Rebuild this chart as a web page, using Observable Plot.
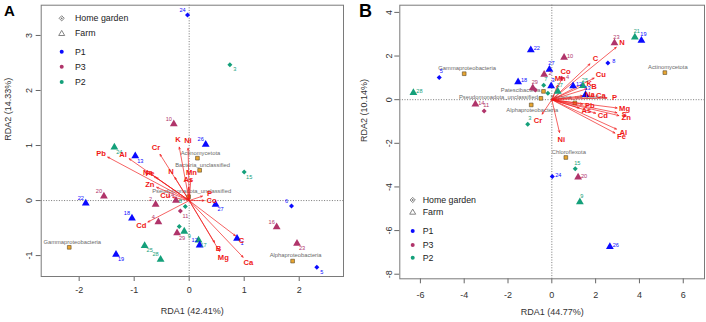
<!DOCTYPE html>
<html><head><meta charset="utf-8">
<script src="https://cdn.jsdelivr.net/npm/d3@7"></script>
<script src="https://cdn.jsdelivr.net/npm/@observablehq/plot@0.6"></script>
<style>
body{margin:0;background:#fff;font-family:"Liberation Sans",Arial,sans-serif;}
#wrap{position:relative;width:706px;height:322px;overflow:hidden;background:#fff;}
.panel{position:absolute;top:0;height:322px;}
.letter{position:absolute;font-weight:bold;color:#000;font-family:"Liberation Sans",Arial,sans-serif;line-height:1;}
.leg{position:absolute;left:0;top:0;pointer-events:none;}
</style></head><body>
<div id="wrap">
  <div class="panel" id="pA" style="left:0;width:350px"></div>
  <div class="panel" id="pB" style="left:350px;width:356px"></div>
  <div class="letter" style="left:4px;top:3px;font-size:15px">A</div>
  <div class="letter" style="left:359px;top:2px;font-size:18px">B</div>
</div>
<script>
// ---------- shared ----------
const groups = ["P1", "P3", "P2"];
const groupColors = ["#0a0aff", "#b0346a", "#14a07a"];
const sites = ["Home garden", "Farm"];

// ---------- Panel A ----------
const titleXA = "RDA1 (42.41%)";
const titleYA = "RDA2 (14.33%)";
const ticksXA = [-2, -1, 0, 1, 2];
const ticksYA = [-1, 0, 1, 2, 3];
const sampleIdA = ["24","3","10","26","24","13","15","20","22","2","14","8","11","27","6","18","4","","29","9","16","1","17","12","23","25","28","19","5"];
const sampleGroupA = ["P1","P2","P3","P1","P2","P1","P2","P3","P1","P3","P3","P2","P3","P1","P1","P1","P3","P2","P3","P2","P3","P1","P2","P1","P3","P2","P2","P1","P1"];
const sampleSiteA = ["Home garden","Home garden","Farm","Farm","Farm","Farm","Home garden","Farm","Farm","Farm","Farm","Home garden","Home garden","Farm","Home garden","Farm","Farm","Home garden","Farm","Farm","Farm","Farm","Farm","Farm","Farm","Farm","Farm","Farm","Home garden"];
const sampleXA = [-0.03,0.74,-0.28,0.30,-1.36,-0.98,1.00,-1.55,-1.88,-0.61,-0.24,-0.07,-0.16,0.48,1.86,-1.04,-0.56,-0.18,-0.22,-0.09,1.59,0.87,0.17,0.19,1.96,-0.81,-0.52,-1.33,2.32];
const sampleYA = [3.37,2.47,1.39,1.02,0.97,0.81,0.52,0.08,-0.05,-0.07,0.00,-0.11,-0.19,-0.07,-0.10,-0.32,-0.39,-0.47,-0.59,-0.56,-0.48,-0.69,-0.72,-0.81,-0.78,-0.82,-1.07,-0.98,-1.21];
// label side: "ul" = above-left, "br" = below-right
const sampleSideA = ["ul","br","ul","ul","br","br","br","ul","ul","ul","ul","ul","br","br","ul","ul","ul","br","br","br","ul","br","br","ul","br","br","ul","br","br"];
const speciesA = ["Actinomycetota","Bacteria_unclassified","Pseudomonadota_unclassified","Gammaproteobacteria","Alphaproteobacteria"];
const speciesXA = [0.15,0.19,-0.01,-2.18,1.88];
const speciesYA = [0.77,0.55,0.07,-0.85,-1.10];
const speciesSideA = ["above","above","above","above","above"];
const envA = ["Pb","Al","Cr","K","Ni","N","Na","Fe","Zn","Cu","Mn","As","P","Co","C","B","Mg","Ca","Cd"];
const envXA = [-1.48,-1.09,-0.53,-0.18,-0.02,-0.26,-0.64,-0.60,-0.59,-0.30,0.03,-0.01,0.24,0.27,0.84,0.46,0.55,0.98,-0.75];
const envYA = [0.79,0.76,0.84,0.97,0.95,0.42,0.44,0.42,0.24,0.06,0.38,0.24,0.08,0.00,-0.64,-0.76,-0.92,-1.03,-0.39];

// ---------- Panel B ----------
const titleXB = "RDA1 (44.77%)";
const titleYB = "RDA2 (10.14%)";
const ticksXB = [-6, -4, -2, 0, 2, 4, 6];
const ticksYB = [-8, -6, -4, -2, 0, 2, 4];
const sampleIdB = ["5","28","14","11","22","10","27","2","18","29","","7","3","","17","4","12","25","13","8","23","21","19","3","15","24","20","9","26"];
const sampleGroupB = ["P1","P2","P3","P3","P1","P3","P1","P3","P1","P3","P3","P2","P1","P2","P2","P3","P1","P2","P1","P1","P3","P2","P1","P2","P2","P1","P3","P2","P1"];
const sampleSiteB = ["Home garden","Farm","Farm","Home garden","Farm","Farm","Farm","Farm","Farm","Farm","Home garden","Home garden","Farm","Home garden","Farm","Home garden","Farm","Farm","Farm","Home garden","Farm","Farm","Farm","Home garden","Home garden","Home garden","Farm","Farm","Farm"];
const sampleXB = [-5.14,-6.32,-3.49,-3.09,-0.96,0.56,-0.11,-0.35,-1.54,-0.87,-0.75,-0.37,-0.03,-0.18,0.27,0.45,0.97,1.42,1.54,2.56,2.86,3.79,4.09,-1.10,1.07,0.02,1.20,1.28,2.65];
const sampleYB = [1.02,0.32,-0.21,-0.52,2.28,1.93,1.38,1.15,0.81,0.54,0.44,0.66,0.63,0.29,0.38,0.98,0.63,0.64,0.23,1.68,2.60,2.86,2.71,-1.13,-3.17,-3.52,-3.56,-4.69,-6.74];
// label side: "r" = right, "a" = above
const sampleSideB = ["a","r","r","a","r","r","a","r","r","a","a","a","a","a","a","r","r","a","a","r","a","a","a","a","a","r","r","a","r"];
const speciesB = ["Gammaproteobacteria","Actinomycetota","Pseudomonadota_unclassified","Alphaproteobacteria","Patescibacteria","Chloroflexota","Bacteria_unclassified"];
const speciesXB = [-4.00,5.16,-0.50,-0.94,-0.38,0.64,1.05];
const speciesYB = [1.19,1.24,0.06,-0.24,0.38,-2.65,-0.15];
const speciesSideB = ["above","above","left","below","left","above","above"];
const envB = ["N","C","Co","Mn","Cu","K","B","Na","Ca","P","Pb","As","Cd","Mg","S","Zn","Al","Fe","Cr","Ni"];
const envXB = [2.94,1.74,0.48,0.26,1.93,1.40,1.60,1.40,1.90,2.52,1.40,1.25,2.00,2.98,2.97,3.06,2.95,2.88,-0.44,0.35];
const envYB = [2.40,1.64,1.00,0.66,0.99,0.62,0.50,0.18,0.16,0.08,-0.20,-0.38,-0.62,-0.38,-0.60,-0.73,-1.35,-1.53,-0.66,-1.50];

// ---------- drawing ----------
const fmt = d => String(d);
const RED = "#f01818";

function panel(o) {
  const samples = o.ids.map((id, i) => ({id, group: o.groups[i], site: o.sites[i], x: o.xs[i], y: o.ys[i], side: o.sides[i]}));
  const species = o.sp.map((n, i) => ({name: n, x: o.spX[i], y: o.spY[i], side: o.spSide[i]}));
  const ppu = (o.width - o.ml - o.mr) / (o.xDomain[1] - o.xDomain[0]);
  const off = o.gapPx / ppu;
  const env = o.env.map((n, i) => {
    const x = o.envX[i], y = o.envY[i], L = Math.hypot(x, y);
    return {name: n, x, y, lx: x * (1 + off / L), ly: y * (1 + off / L)};
  });
  const diam = samples.filter(d => d.site === "Home garden");
  const tri = samples.filter(d => d.site === "Farm");
  const lab = samples.filter(d => d.id !== "");
  const marks = [
    Plot.ruleX([0], {stroke: "#555", strokeWidth: 0.8, strokeDasharray: "1,1.6"}),
    Plot.ruleY([0], {stroke: "#555", strokeWidth: 0.8, strokeDasharray: "1,1.6"}),
    Plot.axisX({ticks: o.ticksX, tickFormat: fmt, tickSize: 5, tickPadding: o.padX, label: null, stroke: "#666", fill: "#333", fontSize: 9}),
    Plot.axisY({ticks: o.ticksY, tickFormat: fmt, tickSize: 5, tickRotate: -90, tickPadding: o.padY, label: null, stroke: "#666", fill: "#333", fontSize: 9}),
    Plot.text([o.titleX], {frameAnchor: "bottom", dy: o.titleDy, fontSize: 9, fill: "#333"}),
    Plot.text([o.titleY], {frameAnchor: "left", dx: o.titleDx, rotate: -90, fontSize: 9, fill: "#333"}),
    Plot.dot(species, {x: "x", y: "y", symbol: "square", r: 2.1, fill: "#e8a530", stroke: "#5a4a2a", strokeWidth: 0.6}),
    Plot.text(species.filter(d => d.side === "above"), {x: "x", y: "y", text: "name", dx: 3, dy: -5.5, fontSize: 5.8, fill: "#6a6a6a"}),
    Plot.text(species.filter(d => d.side === "below"), {x: "x", y: "y", text: "name", dx: 1, dy: 5, fontSize: 5.8, fill: "#6a6a6a"}),
    Plot.text(species.filter(d => d.side === "left"), {x: "x", y: "y", text: "name", dx: -3, dy: -1, textAnchor: "end", fontSize: 5.8, fill: "#6a6a6a"}),
    Plot.arrow(env, {x1: 0, y1: 0, x2: "x", y2: "y", stroke: RED, strokeWidth: 0.75, headLength: 4, headAngle: 45, strokeOpacity: 0.9}),
    Plot.dot(tri, {x: "x", y: "y", symbol: "triangle", r: 2.9, fill: "group"}),
    Plot.dot(diam, {x: "x", y: "y", symbol: "square", rotate: 45, r: 2.0, fill: "group"})
  ];
  for (const s of o.sideDefs) {
    marks.push(Plot.text(lab.filter(d => d.side === s.side), {x: "x", y: "y", text: "id", dx: s.dx, dy: s.dy, fontSize: 5.6, fill: "group"}));
  }
  marks.push(Plot.text(env, {x: "lx", y: "ly", text: "name", fontSize: 7.6, fontWeight: "bold", fill: RED}));
  marks.push(Plot.frame({stroke: "#7a7a7a", strokeWidth: 1}));
  return Plot.plot({
    width: o.width, height: 322,
    marginLeft: o.ml, marginRight: o.mr, marginTop: o.mt, marginBottom: o.mb,
    x: {domain: o.xDomain}, y: {domain: o.yDomain},
    color: {domain: groups, range: groupColors},
    style: {fontFamily: "'Liberation Sans', Arial, sans-serif", background: "#fff", overflow: "visible"},
    marks
  });
}

function legend(div, o) {
  const svg = d3.select(div).append("svg").attr("class", "leg")
    .attr("width", o.width).attr("height", 322);
  const rows = [
    {label: "Home garden", kind: "diamond"},
    {label: "Farm", kind: "triangle"},
    ...groups.map((g, i) => ({label: g, kind: "dot", color: groupColors[i]}))
  ];
  rows.forEach((r, i) => {
    const y = o.ys[i];
    if (r.kind === "diamond") {
      svg.append("path").attr("d", `M${o.sx},${y-2.6}L${o.sx+2.6},${y}L${o.sx},${y+2.6}L${o.sx-2.6},${y}Z`)
        .attr("fill", "#fff").attr("stroke", "#777").attr("stroke-width", 0.9);
      svg.append("circle").attr("cx", o.sx).attr("cy", y).attr("r", 0.9).attr("fill", "#777");
    } else if (r.kind === "triangle") {
      svg.append("path").attr("d", `M${o.sx},${y-2.9}L${o.sx+3},${y+2.2}L${o.sx-3},${y+2.2}Z`)
        .attr("fill", "#fff").attr("stroke", "#777").attr("stroke-width", 0.9);
    } else {
      svg.append("circle").attr("cx", o.sx).attr("cy", y).attr("r", 2).attr("fill", r.color);
    }
    svg.append("text").attr("x", o.tx).attr("y", y).attr("dy", "0.35em")
      .attr("font-size", 8.8).attr("fill", "#222")
      .attr("font-family", "'Liberation Sans', Arial, sans-serif").text(r.label);
  });
}

const A = panel({
  width: 350, ml: 40.7, mr: 7, mt: 4.7, mb: 46,
  xDomain: [-2.69, 2.805], yDomain: [-1.38, 3.55],
  ticksX: ticksXA, ticksY: ticksYA, padX: 5, padY: 4, titleX: titleXA, titleY: titleYA,
  titleDy: 37, titleDx: -33, gapPx: 7.5,
  ids: sampleIdA, groups: sampleGroupA, sites: sampleSiteA, xs: sampleXA, ys: sampleYA, sides: sampleSideA,
  sp: speciesA, spX: speciesXA, spY: speciesYA, spSide: speciesSideA,
  env: envA, envX: envXA, envY: envYA,
  sideDefs: [{side: "ul", dx: -5, dy: -5}, {side: "br", dx: 5, dy: 5}]
});
document.getElementById("pA").appendChild(A);
legend(document.getElementById("pA"), {width: 350, sx: 61.7, tx: 75, ys: [18.3, 33.3, 51.7, 66.7, 82]});

const B = panel({
  width: 356, ml: 49.3, mr: 2, mt: 4.7, mb: 43.7,
  xDomain: [-6.94, 6.97], yDomain: [-8.21, 4.33],
  ticksX: ticksXB, ticksY: ticksYB, padX: 8, padY: 3, titleX: titleXB, titleY: titleYB,
  titleDy: 36, titleDx: -36, gapPx: 7.5,
  ids: sampleIdB, groups: sampleGroupB, sites: sampleSiteB, xs: sampleXB, ys: sampleYB, sides: sampleSideB,
  sp: speciesB, spX: speciesXB, spY: speciesYB, spSide: speciesSideB,
  env: envB, envX: envXB, envY: envYB,
  sideDefs: [{side: "r", dx: 6, dy: -1.5}, {side: "a", dx: 2, dy: -6}]
});
document.getElementById("pB").appendChild(B);
legend(document.getElementById("pB"), {width: 356, sx: 62.7, tx: 72.7, ys: [200, 212, 231, 245, 257.7]});
</script>
</body></html>
